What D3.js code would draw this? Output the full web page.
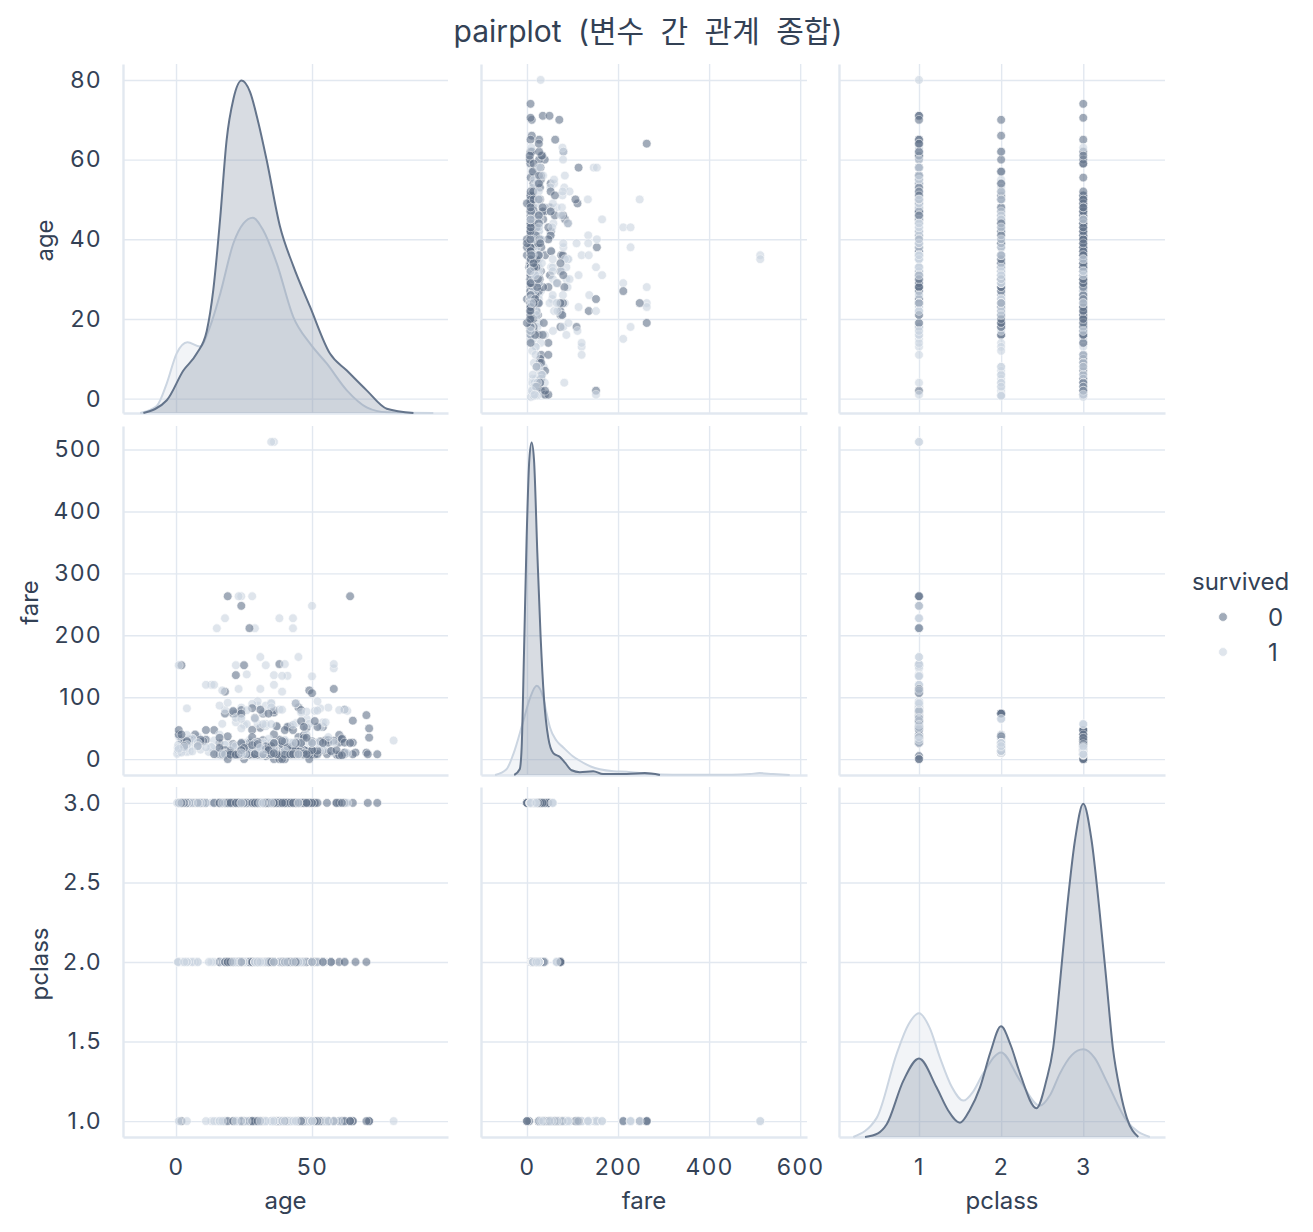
<!DOCTYPE html>
<html>
<head>
<meta charset="utf-8">
<script src="https://cdn.jsdelivr.net/npm/d3@7"></script>
<style>
  body { margin: 0; background: #fff; }
  text { font-family: Inter, "Noto Sans CJK KR", sans-serif; fill: #334155; }
</style>
</head>
<body>
<div id="chart"></div>
<script>

// passengers: [age, fare]
var class1Died = [[2,151.6],[19,263],[64,263],[24,247.5],[27,211.5],[25,151.6],[38,153.5],[22,135.6],[58,113.3],[50,106.4],[49,110.9],[46,79.2],[44,90],[45,83.5],[36,75.2],[21,77.3],[28,82.2],[31,79.7],[65,62],[70,71],[71,49.5],[71,34.7],[64,26],[62,26.6],[61,33.5],[60,26.6],[56,30.7],[55,30.5],[54,51.9],[52,51.9],[50,28.7],[47,52],[47,34],[46,61.2],[45,35.5],[42,52.6],[40,27.7],[39,0],[38,0],[37,53.1],[36,40.1],[33,5],[31,50.5],[30,27.8],[29,66.6],[28,47.1],[24,79.2],[18,108.9],[45,26.6],[48,50.5],[51,61.4],[53,28.5],[61,32.3],[62,80],[65,26.6],[47,38.5],[32,30.5],[46,26],[28,35.5],[56,26.6],[58,29.7],[41,51.9],[36,78.9],[54,26],[24,26]];
var class1Survived = [[80,30],[35,512.3],[36,512.3],[23,263],[24,263],[28,263],[50,247.5],[18,227.5],[38,227.5],[43,227.5],[15,211.3],[29,211.3],[43,211.3],[31,164.9],[45,164.9],[58,153.5],[58,146.5],[40,153.5],[22,151.6],[1,151.6],[39,134.5],[41,134.5],[36,135.6],[23,113.3],[11,120],[4,81.9],[13,120],[17,110.9],[16,86.5],[35,83.5],[35,90],[33,86.5],[30,93.5],[24,69.3],[26,78.9],[39,79.7],[48,76.7],[52,93.5],[53,51.5],[54,59.4],[56,83.2],[58,26.6],[60,79.2],[62,80],[63,77.9],[49,56.9],[48,39.6],[44,57.9],[40,31],[36,26.3],[35,26.3],[33,53.1],[30,56.9],[27,30.5],[25,55.4],[22,66.6],[19,91.1],[21,77.9],[16,39.4],[14,120],[26,136.8],[17,57],[43,55.4],[51,77.9],[44,27.7],[32,76.3],[38,80],[47,52.6],[53,81.9],[56,35.5],[42,26.6],[49,25.9],[36,120],[33,151.6],[24,83.2],[30,86.5],[24,49.5],[33,57],[46,75.2],[28,89.1],[37,52.6],[41,51.9],[45,26.6],[50,133.7],[52,78.3],[18,79.7],[22,59.4],[31,113.3],[35,91.1],[39,108.9],[44,90],[55,59.4]];
var class2Died = [[70,10.5],[66,10.5],[62,10.5],[60,39],[57,12.4],[54,26],[52,13.5],[51,12.5],[50,13],[48,13],[47,15],[46,26],[44,26],[43,21],[42,13],[40,13],[39,26],[38,13],[36,13],[35,21],[34,73.5],[34,13],[33,12.3],[32,73.5],[31,10.5],[30,13],[30,21],[29,26],[28,13],[28,10.5],[27,26],[26,13],[25,13],[24,73.5],[24,13],[23,15],[23,10.5],[22,73.5],[21,11.5],[21,73.5],[20,13],[19,36.8],[19,10.5],[18,73.5],[18,11.5],[16,26],[16,10.5],[36,26],[41,19.5],[45,13.5],[57,13],[54,14],[39,13],[44,13],[50,26]];
var class2Survived = [[0.67,14.5],[0.83,18.8],[0.83,23],[1,37],[2,26],[3,26],[3,18.8],[4,23],[4,39],[5,27.8],[6,33],[7,26.3],[8,36.8],[8,26.3],[12,11.5],[13,19.5],[14,30.1],[17,10.5],[18,23],[19,26],[21,21],[22,21],[23,13.8],[24,26],[25,26],[27,13.8],[28,13],[29,26],[30,21],[31,26.3],[32,13],[33,26],[34,23],[35,21],[36,13],[40,13],[41,19.5],[42,13],[44,26],[45,13.5],[48,65],[50,26],[52,26],[53,13],[54,23],[55,16],[57,10.5],[62,10.5],[24,65],[29,65],[34,32.5],[6,33],[25,13],[26,26],[28,26],[30,13],[32,26],[34,13],[36,26],[38,21],[39,26],[42,26],[43,26.3],[45,26],[46,26],[47,10.5],[50,10.5],[24,13],[27,21],[31,21],[33,13],[29,10.5]];
var class3Died = [[1,46.9],[1,39.7],[2,31.3],[2,29.1],[2,39.7],[3,21.1],[4,29.1],[4,27.9],[5,31.4],[6,31.3],[7,39.7],[8,21.1],[9,31.3],[9,27.9],[10,29.1],[11,46.9],[11,31.3],[14,46.9],[14,7.9],[16,34.4],[16,7.8],[16,8.1],[17,7.9],[17,14.5],[18,7.8],[18,8.1],[18,14.5],[19,7.9],[19,8.1],[19,7.9],[20,7.9],[20,8.1],[20,9.8],[21,7.8],[21,8.1],[21,7.9],[22,7.3],[22,7.9],[22,9],[23,7.9],[23,7.9],[24,8.1],[24,7.5],[24,16.1],[25,7.1],[25,7.7],[25,17.8],[26,7.9],[26,14.5],[26,8.1],[27,7.9],[28,7.9],[28,8.1],[28,22.5],[29,7.8],[29,9.5],[30,7.3],[30,8.1],[30,16.1],[31,7.8],[32,7.9],[32,8.1],[33,7.9],[33,8.7],[34,8.1],[34,6.5],[35,7.1],[35,8.1],[36,7.9],[36,24.2],[37,7.9],[38,7.9],[38,31.4],[39,7.9],[39,29.1],[40,7.2],[40,9.5],[40,27.9],[41,14.1],[41,20.2],[42,7.6],[43,8.1],[44,8.1],[44,16.1],[45,7.8],[45,27.9],[47,7.3],[47,14.5],[48,7.9],[49,0],[50,8.1],[51,7.8],[51,8.1],[55.5,8.1],[59,7.3],[61,6.2],[65,7.8],[70.5,7.8],[74,7.8],[40,0],[36,0],[25,0],[19,0],[42,7.7],[43,46.9],[40,46.9],[23,9.4],[27,14.5],[31,20.5],[33,15.9],[35,16.1],[37,7.9],[29,15.3],[24,24.2],[28,7.3],[30,7],[34,14.4],[22,8.7],[26,18.8],[59,14.5],[60,6.2],[62,7.8],[46,7.9],[48,34.4],[50,14.5],[52,8.1],[44,7.9],[38,8.7],[32,7.9],[26,7.9],[20,7.2],[18,6.5],[17,8.7],[18,7.8],[19,7.8],[20,7.1],[21,8.4],[22,7.1],[23,7.8],[24,7.1],[25,7.2],[26,7.8],[27,8.7],[28,7.9],[29,7.9],[30,9.5],[31,8.1],[32,7.8],[33,8.7],[34,8.1],[35,7.8],[36,9.5],[37,7.8],[38,7.2],[39,24.2],[40,15.5],[42,8.7],[44,14.5],[45,8.1],[47,9],[49,7.9],[20,14.5],[22,21.1],[25,14.5],[28,15.5],[30,24.2],[33,20.6],[36,15.2],[41,7.9],[43,7.9],[46,14.5],[50,7.8],[16,18],[17,7.1],[23,8.1],[27,7.2],[31,7.9],[35,7.9],[21,24.2],[24,14.5],[32,15.5],[26,8.7]];
var class3Survived = [[0.42,8.5],[0.75,19.3],[0.75,19.3],[1,11.1],[1,16.7],[2,10.5],[3,15.9],[4,16.7],[4,11.1],[5,19.3],[5,12.5],[6,12.5],[9,15.3],[13,19.3],[14,11.2],[15,14.5],[15,7.2],[16,7.7],[17,7.9],[18,9.8],[19,7.9],[21,7.8],[22,7.8],[22,9.4],[23,7.6],[24,9.5],[25,7.8],[26,7.9],[27,12.5],[28,9.5],[29,15.3],[30,7.6],[31,18],[32,56.5],[32,7.9],[33,15.9],[36,12.2],[38,7.2],[39,7.9],[45,7.8],[63,9.6],[24,15.9],[26,56.5],[27,7.9],[20,7.9],[33,12.5],[35,56.5],[18,7.8],[22,7.2],[24,7.1],[26,8.1],[28,7.8],[30,8.1],[32,7.8],[35,7.9],[16,7.7],[19,7.8],[4,13.4],[3,13.8],[2,12.3],[8,20.6],[11,18.8],[27,15.2],[31,20.2],[36,15.5],[40,9.5],[25,7.9]];

// diagonal KDE curves: [value, density]
var ageDensityDied = [[-12,0],[-3.4,0.0009],[2.7,0.003],[7.6,0.0042],[11.3,0.0058],[13.7,0.0087],[16.2,0.0137],[18.6,0.0193],[21.1,0.0222],[24.1,0.0235],[27.2,0.0227],[30.3,0.0205],[33.3,0.0179],[38.2,0.0132],[43.1,0.0104],[49.3,0.0075],[56.6,0.0042],[62.8,0.003],[70.1,0.0016],[77.5,0.0003],[87.3,0]];
var ageDensitySurvived = [[-13.2,0],[-7.1,0.0005],[-3.4,0.0021],[0.2,0.0042],[4.2,0.005],[8.8,0.0047],[12.5,0.0061],[16.2,0.0084],[21.1,0.012],[24.8,0.0134],[28.2,0.0138],[32.1,0.0129],[37,0.0106],[43.1,0.0068],[49.3,0.0049],[55.4,0.0035],[62.8,0.0016],[70.1,0.0004],[77.5,0.00005],[94.6,0]];
var fareDensityDied = [[-28,0],[-16,0.0006],[-11.7,0.0029],[-6.6,0.0128],[-0.7,0.0251],[5.1,0.0332],[10.2,0.035],[15.4,0.0332],[22.7,0.0234],[30,0.0145],[37.3,0.0081],[46.8,0.0039],[57.7,0.0023],[72.4,0.0019],[83.4,0.0013],[98,0.0005],[116,0.0003],[145.5,0.0004],[167,0.0001],[219,0.0001],[259,0.0002],[292,0]];
var fareDensitySurvived = [[-70,0],[-45,0.0006],[-30,0.0022],[-8,0.0057],[6.6,0.0081],[21.2,0.0094],[35.8,0.0081],[43,0.0065],[50.5,0.005],[65,0.0036],[79.7,0.0029],[100,0.002],[116,0.0015],[140,0.0009],[160,0.0006],[190,0.0004],[219,0.00035],[262,0.00014],[320,0.00003],[450,0.00002],[490,0.0001],[511,0.0002],[540,0.0001],[577,0]];
var pclassDensityDied = [[0.343,0],[0.5,0.012],[0.607,0.042],[0.81,0.186],[1,0.259],[1.215,0.163],[1.35,0.09],[1.499,0.047],[1.62,0.09],[1.742,0.163],[1.87,0.28],[1.998,0.365],[2.12,0.3],[2.23,0.209],[2.43,0.095],[2.55,0.186],[2.634,0.295],[2.72,0.52],[2.797,0.74],[2.9,0.98],[3,1.099],[3.1,0.98],[3.2,0.74],[3.28,0.52],[3.36,0.295],[3.45,0.15],[3.53,0.063],[3.67,0]];
var pclassDensitySurvived = [[0.2,0],[0.485,0.063],[0.73,0.276],[0.87,0.37],[1,0.408],[1.13,0.36],[1.255,0.262],[1.4,0.165],[1.54,0.12],[1.66,0.15],[1.78,0.209],[2,0.279],[2.23,0.186],[2.47,0.103],[2.6,0.14],[2.715,0.209],[2.86,0.27],[3,0.289],[3.14,0.26],[3.28,0.186],[3.53,0.053],[3.81,0]];

var variables = ["age", "fare", "pclass"];
var hueLevels = [0, 1];

var xTicks = {age: [0, 50], fare: [0, 200, 400, 600], pclass: [1, 2, 3]};
var yTicks = {age: [0, 20, 40, 60, 80], fare: [0, 100, 200, 300, 400, 500], pclass: [1, 1.5, 2, 2.5, 3]};

var svgWidth = 1313;
var svgHeight = 1232;

// panel edges (columns / rows)
var colX = [[123, 448], [481, 807], [839, 1165]];
var rowY = [[64, 413], [426, 775], [787, 1137]];

var xDomain = {age: [-19.5, 100], fare: [-101, 615], pclass: [0.026, 3.995]};
var yDomain = {age: [-3.6, 84], fare: [-25.7, 538], pclass: [0.9, 3.1]};

var xFormat = {age: d3.format("d"), fare: d3.format("d"), pclass: d3.format("d")};
var yFormat = {age: d3.format("d"), fare: d3.format("d"), pclass: d3.format(".1f")};

var hueColor = {0: "#64748b", 1: "#cbd5e1"};
var gridColor = "#e2e8f0";

var densities = {
  age: {0: ageDensityDied, 1: ageDensitySurvived},
  fare: {0: fareDensityDied, 1: fareDensitySurvived},
  pclass: {0: pclassDensityDied, 1: pclassDensitySurvived}
};

// build the passenger table
var groups = [
  {rows: class1Died, pclass: 1, survived: 0},
  {rows: class1Survived, pclass: 1, survived: 1},
  {rows: class2Died, pclass: 2, survived: 0},
  {rows: class2Survived, pclass: 2, survived: 1},
  {rows: class3Died, pclass: 3, survived: 0},
  {rows: class3Survived, pclass: 3, survived: 1}
];
var passengers = [];
groups.forEach(function(g) {
  g.rows.forEach(function(r) {
    passengers.push({age: r[0], fare: r[1], pclass: g.pclass, survived: g.survived});
  });
});
// mix drawing order (the real table is not sorted by class)
var n = passengers.length;
passengers = passengers
  .map(function(d, i) { return {d: d, k: (i * 7919) % n}; })
  .sort(function(a, b) { return a.k - b.k; })
  .map(function(e) { return e.d; });

var svg = d3.select("#chart")
  .append("svg")
  .attr("width", svgWidth)
  .attr("height", svgHeight);

function styleAxis(g) {
  g.select(".domain").attr("stroke", gridColor).attr("stroke-width", 2.4);
  g.selectAll(".tick line").attr("stroke", gridColor).attr("stroke-width", 1.4);
  g.selectAll(".tick text")
    .attr("font-family", "Inter, sans-serif")
    .attr("font-size", 23)
    .attr("letter-spacing", 1.5)
    .style("fill", "#334155");
}

variables.forEach(function(yv, i) {
  variables.forEach(function(xv, j) {
    var top = rowY[i][0], bottom = rowY[i][1];
    var h = bottom - top;
    var w = colX[j][1] - colX[j][0];

    var xScale = d3.scaleLinear().domain(xDomain[xv]).range(colX[j]);
    var yScale = d3.scaleLinear().domain(yDomain[yv]).range([bottom, top]);

    var bottomAxis = d3.axisBottom(xScale)
      .tickValues(xTicks[xv])
      .tickSize(-h)
      .tickSizeOuter(0)
      .tickPadding(22)
      .tickFormat(i === 2 ? xFormat[xv] : "");
    var leftAxis = d3.axisLeft(yScale)
      .tickValues(yTicks[yv])
      .tickSize(-w)
      .tickSizeOuter(0)
      .tickPadding(21)
      .tickFormat(j === 0 ? yFormat[yv] : "");

    var gy = svg.append("g")
      .attr("transform", `translate(${colX[j][0]}, 0)`)
      .call(leftAxis);
    styleAxis(gy);
    var gx = svg.append("g")
      .attr("transform", `translate(0, ${bottom})`)
      .call(bottomAxis);
    styleAxis(gx);

    if (i === j) {
      // diagonal: KDE per hue, survived drawn first
      var maxD = d3.max(hueLevels, function(k) { return d3.max(densities[xv][k], function(p) { return p[1]; }); });
      var dScale = d3.scaleLinear().domain([0, maxD * 1.05]).range([bottom, top]);
      var area = d3.area()
        .x(function(p) { return xScale(p[0]); })
        .y0(bottom)
        .y1(function(p) { return dScale(p[1]); })
        .curve(d3.curveMonotoneX);
      var line = d3.line()
        .x(function(p) { return xScale(p[0]); })
        .y(function(p) { return dScale(p[1]); })
        .curve(d3.curveMonotoneX);
      [1, 0].forEach(function(k) {
        svg.append("path")
          .datum(densities[xv][k])
          .attr("d", area)
          .attr("fill", hueColor[k])
          .attr("fill-opacity", 0.25);
        svg.append("path")
          .datum(densities[xv][k])
          .attr("d", line)
          .attr("fill", "none")
          .attr("stroke", hueColor[k])
          .attr("stroke-width", 2);
      });
    } else {
      svg.append("g")
        .selectAll("circle")
        .data(passengers)
        .enter()
        .append("circle")
        .attr("cx", function(d) { return xScale(d[xv]); })
        .attr("cy", function(d) { return yScale(d[yv]); })
        .attr("r", 4.4)
        .attr("fill", function(d) { return hueColor[d.survived]; })
        .attr("stroke", "#fff")
        .attr("stroke-width", 0.7)
        .attr("opacity", 0.6);
    }
  });
});

// axis labels
variables.forEach(function(v, j) {
  svg.append("text")
    .attr("x", (colX[j][0] + colX[j][1]) / 2)
    .attr("y", 1209)
    .attr("text-anchor", "middle")
    .attr("font-size", 24)
    .text(v);
});
var yLabelBaseline = [53, 38, 48];
variables.forEach(function(v, i) {
  svg.append("text")
    .attr("transform", `translate(${yLabelBaseline[i]}, ${(rowY[i][0] + rowY[i][1]) / 2 + 2}) rotate(-90)`)
    .attr("text-anchor", "middle")
    .attr("font-size", 24)
    .text(v);
});

// title
svg.append("text")
  .attr("x", 648)
  .attr("y", 42)
  .attr("text-anchor", "middle")
  .attr("font-size", 30)
  .attr("word-spacing", 8)
  .text("pairplot (변수 간 관계 종합)");

// legend
var legend = svg.append("g");
legend.append("text")
  .attr("x", 1192)
  .attr("y", 590)
  .attr("font-size", 24)
  .text("survived");
hueLevels.forEach(function(k, idx) {
  var cy = 617 + idx * 35;
  legend.append("circle")
    .attr("cx", 1223)
    .attr("cy", cy)
    .attr("r", 4.4)
    .attr("fill", hueColor[k])
    .attr("stroke", "#fff")
    .attr("stroke-width", 0.7)
    .attr("opacity", 0.6);
  legend.append("text")
    .attr("x", 1268)
    .attr("y", cy + 9)
    .attr("font-size", 24)
    .text(k);
});

</script>
</body>
</html>
